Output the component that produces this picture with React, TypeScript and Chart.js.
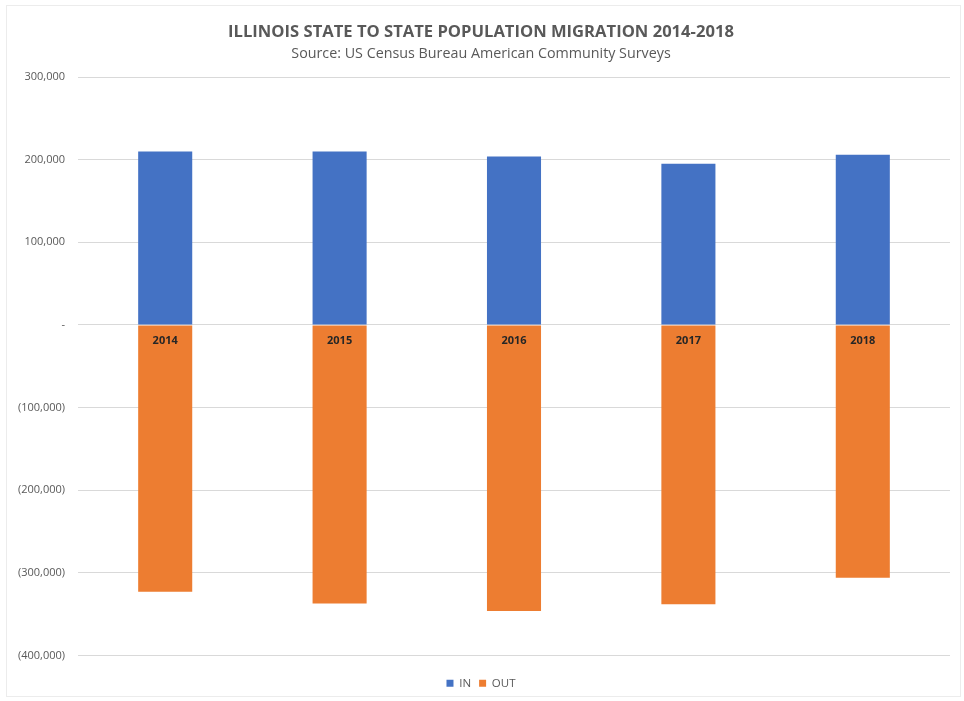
import React, { useEffect, useRef } from "react";
import { Chart, registerables } from "chart.js";

Chart.register(...registerables);

const years = ["2014", "2015", "2016", "2017", "2018"];
const inValues = [210000, 210000, 204000, 195000, 206000];
const outValues = [-323000, -337000, -346000, -338000, -306000];
const titleText = "ILLINOIS STATE TO STATE POPULATION MIGRATION 2014-2018";
const subtitleText = "Source: US Census Bureau American Community Surveys";

const FONT = "'Open Sans', 'Noto Sans', sans-serif";

function fmt(v: number): string {
  if (v === 0) return "-";
  const s = Math.abs(v).toLocaleString("en-US");
  return v < 0 ? `(${s})` : s;
}

const categoryAtZero = {
  id: "categoryAtZero",
  afterDatasetsDraw(chart: any) {
    const x = chart.scales.x;
    const y = chart.scales.y;
    const c = chart.ctx;
    const y0 = y.getPixelForValue(0);
    c.save();
    c.fillStyle = "#262626";
    c.font = `bold 11px ${FONT}`;
    c.textAlign = "center";
    c.textBaseline = "middle";
    chart.data.labels.forEach((lab: string, i: number) => {
      c.fillText(lab, x.getPixelForValue(i), y0 + 16);
    });
    c.restore();
  },
};

export default function App() {
  const ref = useRef<HTMLCanvasElement | null>(null);
  useEffect(() => {
    document.body.style.margin = "0";
    const ctx = ref.current!.getContext("2d")!;
    const chart = new Chart(ctx, {
      type: "bar",
      data: {
        labels: years,
        datasets: [
          { label: "IN", data: inValues, backgroundColor: "#4472C4", barPercentage: 0.62, categoryPercentage: 0.5 },
          { label: "OUT", data: outValues, backgroundColor: "#ED7D31", barPercentage: 0.62, categoryPercentage: 0.5 },
        ],
      },
      plugins: [categoryAtZero],
      options: {
        animation: false,
        responsive: false,
        maintainAspectRatio: false,
        layout: { padding: { top: 12, left: 12, right: 14, bottom: 2 } },
        plugins: {
          title: {
            display: true,
            text: titleText,
            color: "#595959",
            font: { family: FONT, size: 16.6, weight: "bold" },
            padding: { top: 10, bottom: 3 },
          },
          subtitle: {
            display: true,
            text: subtitleText,
            color: "#595959",
            font: { family: FONT, size: 14.3 },
            padding: { top: 0, bottom: 15 },
          },
          legend: {
            position: "bottom",
            labels: {
              boxWidth: 7,
              boxHeight: 7,
              padding: 8,
              color: "#595959",
              font: { family: FONT, size: 11.5 },
            },
          },
          tooltip: { enabled: false },
        },
        scales: {
          x: {
            stacked: true,
            grid: { display: false, drawTicks: false },
            border: { display: false },
            ticks: { display: false },
            afterFit: (s: any) => { s.height = 14; },
          },
          y: {
            stacked: true,
            min: -400000,
            max: 300000,
            afterFit: (s: any) => { s.width = 66; },
            grid: { color: "#d9d9d9", drawTicks: false, lineWidth: 1 },
            border: { display: false },
            ticks: {
              stepSize: 100000,
              padding: 13,
              color: "#595959",
              font: { family: FONT, size: 11 },
              callback: (v: any) => fmt(Number(v)),
            },
          },
        },
      },
    });
    return () => chart.destroy();
  }, []);
  return (
    <div style={{ position: "relative", width: 964, height: 701, background: "#fff" }}>
      <canvas ref={ref} width={964} height={701} style={{ display: "block" }} />
      <div
        style={{
          position: "absolute",
          left: 6,
          top: 5,
          width: 955,
          height: 692,
          border: "1px solid #ececec",
          boxSizing: "border-box",
          pointerEvents: "none",
        }}
      />
    </div>
  );
}
